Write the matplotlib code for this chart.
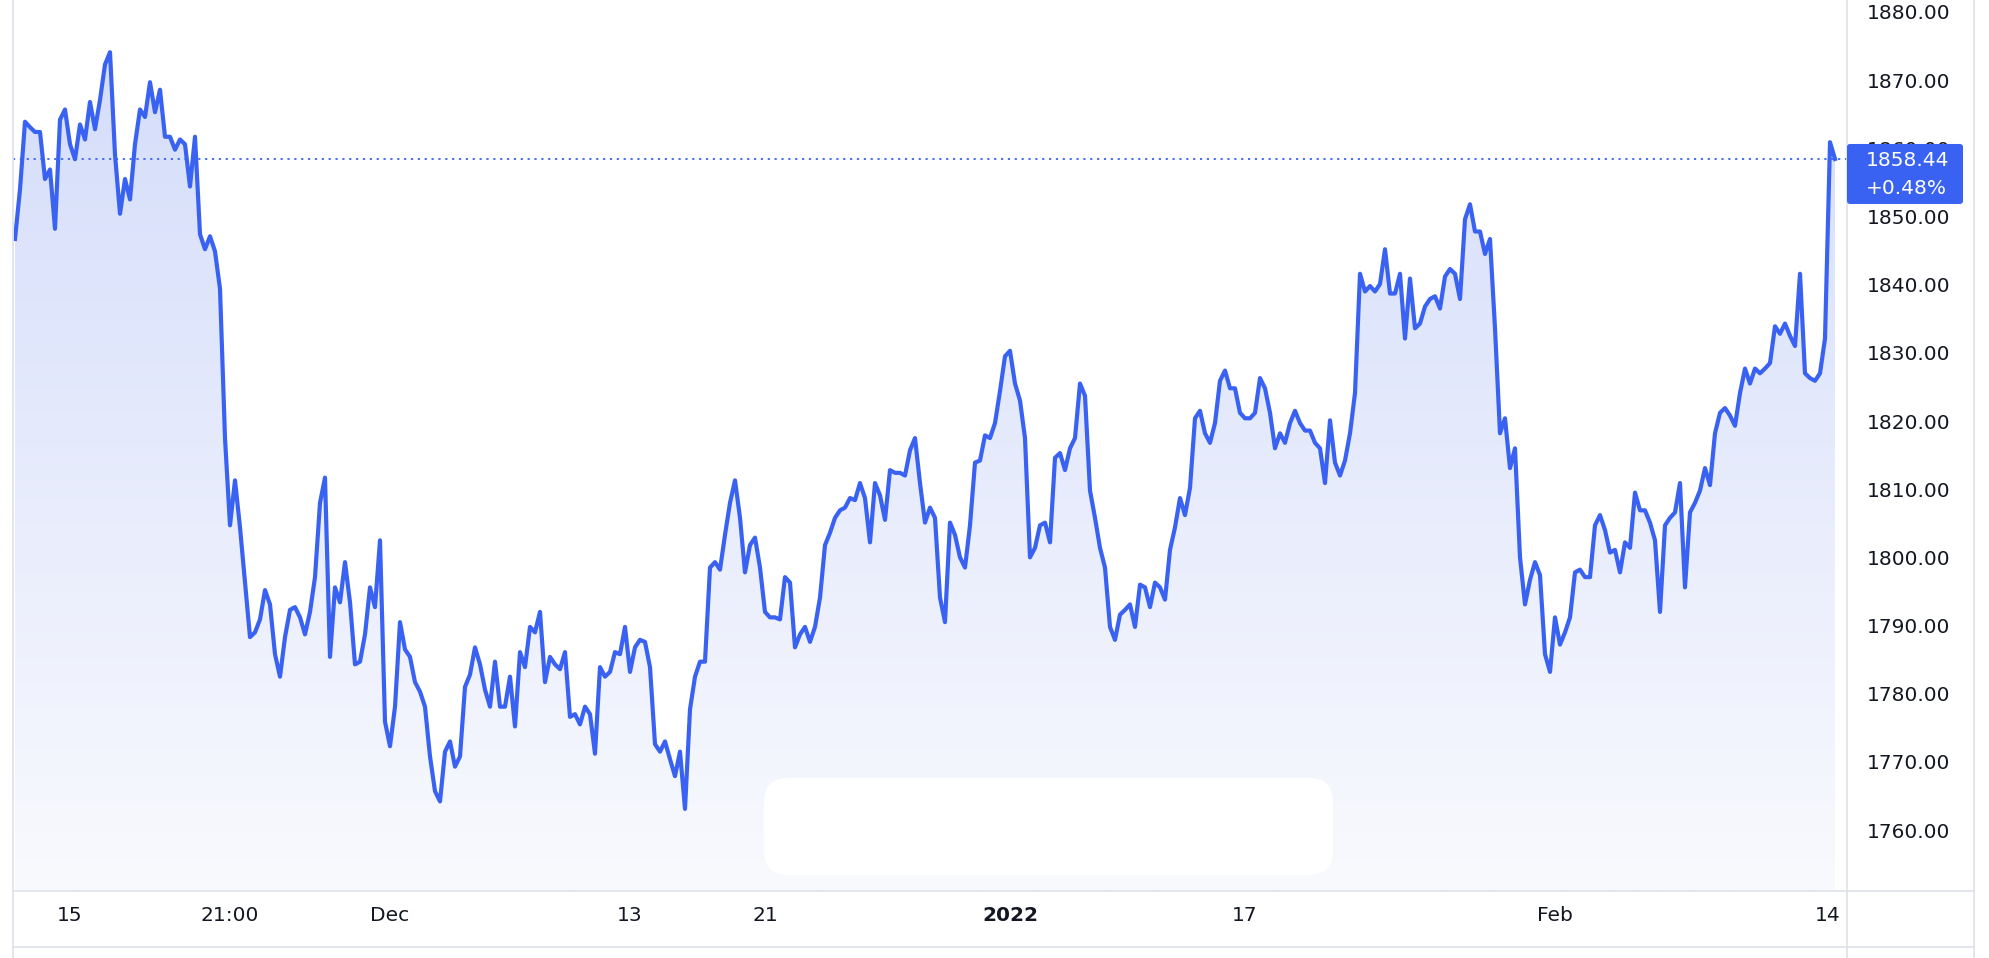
import numpy as np
import matplotlib
matplotlib.use("Agg")
import matplotlib.pyplot as plt
from matplotlib.patches import FancyBboxPatch
from matplotlib.lines import Line2D
from matplotlib.transforms import IdentityTransform

# gold spot (USD/oz) at even time steps
prices_mid_nov = [
    1846.7, 1854.0, 1863.9, 1863.1, 1862.4, 1862.4, 1855.5, 1856.9, 1848.2, 1864.2,
    1865.7, 1860.6, 1858.4, 1863.5, 1861.3, 1866.8, 1862.8, 1867.1, 1872.3, 1874.1,
    1859.1, 1850.4, 1855.5, 1852.5, 1860.6, 1865.7, 1864.6, 1869.7, 1865.3, 1868.6,
    1861.7, 1861.7, 1859.8, 1861.3, 1860.6, 1854.4, 1861.7, 1847.4, 1845.2, 1847.1,
    1844.9, 1839.4, 1817.5, 1804.7, 1811.3, 1804.4, 1796.3, 1788.3, 1789.0, 1790.9,
    1795.2, 1793.1, 1785.8, 1782.5, 1788.3, 1792.3, 1792.7, 1791.2, 1788.7, 1792.0,
    1797.1, 1808.0,
]
prices_early_dec = [
    1811.7, 1785.4, 1795.6, 1793.4, 1799.3, 1793.4, 1784.3, 1784.7, 1788.7, 1795.6,
    1792.7, 1802.5, 1775.9, 1772.3, 1778.1, 1790.5, 1786.5, 1785.4, 1781.7, 1780.3,
    1778.1, 1770.8, 1765.7, 1764.2, 1771.5, 1773.0, 1769.3, 1770.8, 1781.0, 1782.8,
    1786.8, 1784.3, 1780.6, 1778.1, 1784.7, 1778.1, 1778.1, 1782.5, 1775.2, 1786.1,
    1783.9, 1789.8, 1789.0, 1792.0, 1781.7, 1785.4, 1784.3, 1783.6, 1786.1, 1776.6,
    1777.0, 1775.5, 1778.1, 1777.0, 1771.2, 1783.9, 1782.5, 1783.2, 1786.1, 1785.8,
    1789.8, 1783.2,
]
prices_late_dec = [
    1786.8, 1787.9, 1787.6, 1783.9, 1772.6, 1771.5, 1773.0, 1770.4, 1767.9, 1771.5,
    1763.1, 1777.7, 1782.5, 1784.7, 1784.7, 1798.5, 1799.3, 1798.2, 1803.3, 1808.0,
    1811.3, 1805.8, 1797.8, 1801.8, 1802.9, 1798.5, 1792.0, 1791.2, 1791.2, 1790.9,
    1797.1, 1796.3, 1786.8, 1788.7, 1789.8, 1787.6, 1789.8, 1794.1, 1801.8, 1803.6,
    1805.8, 1806.9, 1807.3, 1808.7, 1808.4, 1810.9, 1808.7, 1802.2, 1810.9, 1809.1,
    1805.5, 1812.8, 1812.4, 1812.4, 1812.0, 1815.7, 1817.5, 1810.9, 1805.1, 1807.3,
    1805.8, 1794.1,
]
prices_early_jan = [
    1790.5, 1805.1, 1803.3, 1800.0, 1798.5, 1804.7, 1813.9, 1814.2, 1817.9, 1817.5,
    1819.7, 1824.4, 1829.5, 1830.3, 1825.5, 1823.0, 1817.5, 1800.0, 1801.4, 1804.7,
    1805.1, 1802.2, 1814.6, 1815.3, 1812.8, 1816.0, 1817.5, 1825.5, 1823.7, 1809.8,
    1805.8, 1801.4, 1798.5, 1789.8, 1787.9, 1791.6, 1792.3, 1793.1, 1789.8, 1796.0,
    1795.6, 1792.7, 1796.3, 1795.6, 1793.8, 1801.1, 1804.4, 1808.7, 1806.2, 1810.2,
    1820.4, 1821.5, 1818.2, 1816.8, 1819.7, 1825.9, 1827.4, 1824.8, 1824.8, 1821.2,
    1820.4, 1820.4,
]
prices_late_jan = [
    1821.2, 1826.3, 1824.8, 1821.2, 1816.0, 1818.2, 1816.8, 1819.7, 1821.5, 1819.7,
    1818.6, 1818.6, 1816.8, 1816.0, 1810.9, 1820.1, 1813.9, 1812.0, 1814.2, 1818.2,
    1824.1, 1841.6, 1839.0, 1839.8, 1839.0, 1840.1, 1845.2, 1838.7, 1838.7, 1841.6,
    1832.1, 1840.9, 1833.6, 1834.3, 1836.8, 1837.9, 1838.3, 1836.5, 1841.2, 1842.3,
    1841.6, 1837.9, 1849.6, 1851.8, 1847.8, 1847.8, 1844.5, 1846.7, 1833.6, 1818.2,
    1820.4, 1813.1, 1816.0, 1800.0, 1793.1, 1796.7, 1799.3, 1797.4, 1785.8, 1783.2,
    1791.2, 1787.2,
]
prices_feb = [
    1789.0, 1791.2, 1797.8, 1798.2, 1797.1, 1797.1, 1804.7, 1806.2, 1804.0, 1800.7,
    1801.1, 1797.8, 1802.2, 1801.4, 1809.5, 1806.9, 1806.9, 1805.1, 1802.5, 1792.0,
    1804.7, 1805.8, 1806.6, 1810.9, 1795.6, 1806.6, 1808.0, 1809.8, 1813.1, 1810.6,
    1818.2, 1821.2, 1821.9, 1820.8, 1819.3, 1824.1, 1827.7, 1825.5, 1827.7, 1827.0,
    1827.7, 1828.5, 1833.9, 1832.8, 1834.3, 1832.5, 1831.0, 1841.6, 1827.0, 1826.3,
    1825.9, 1827.0, 1832.1, 1860.9, 1858.44,
]

last_price = 1858.44
last_change = "+0.48%"

tick_pos = [11, 43, 75, 123, 150, 199, 246, 308, 362.5]
tick_labels = ["15", "21:00", "Dec", "13", "21", "2022", "17", "Feb", "14"]
y_ticks = np.arange(1760, 1881, 10)

BLUE = "#3962f3"
TEXT = "#131722"
GRID = "#e0e3eb"
W, H = 1990, 958

prices = np.array(prices_mid_nov + prices_early_dec + prices_late_dec
                  + prices_early_jan + prices_late_jan + prices_feb)
x = np.arange(len(prices))

fig = plt.figure(figsize=(W / 100, H / 100), dpi=100)
ax = fig.add_axes([13 / W, 67 / H, 1834 / W, 891 / H])
x0, x1 = -0.4, 366.4
y0, y1 = 1751.06, 1881.76

# gradient fill under the line
grad = np.linspace(0, 1, 256)[:, None, None]
top = np.array([210, 219, 250]) / 255
bot = np.array([249, 250, 254]) / 255
img = bot + (top - bot) * grad
im = ax.imshow(img, extent=[x0, x1, y0, y1], origin="lower", aspect="auto",
               zorder=1, interpolation="bilinear")
area = ax.fill_between(x, prices, y0, facecolor="none", linewidth=0)
im.set_clip_path(area.get_paths()[0], transform=ax.transData)

# white overlay card at the bottom
card = FancyBboxPatch((764, 958 - 875), 569, 97,
                      boxstyle="round,pad=0,rounding_size=24",
                      transform=IdentityTransform(), fc="white", ec="none",
                      zorder=2, clip_on=False)
ax.add_patch(card)

ax.plot(x, prices, color=BLUE, lw=3.0, zorder=4, solid_joinstyle="round")
ax.axhline(last_price, color=BLUE, lw=1.3, ls=(0, (1.2, 2.6)), zorder=3)

ax.set_xlim(x0, x1)
ax.set_ylim(y0, y1)
for s in ax.spines.values():
    s.set_visible(False)

ax.yaxis.tick_right()
ax.set_yticks(y_ticks)
ax.set_yticklabels([f"{v:.2f}" for v in y_ticks])
ax.tick_params(axis="y", length=0, pad=14.4, labelsize=14.5, labelcolor=TEXT)
ax.set_xticks(tick_pos, tick_labels)
ax.tick_params(axis="x", length=0, pad=11, labelsize=14.5, labelcolor=TEXT)
for lbl in ax.get_xticklabels():
    if lbl.get_text() == "2022":
        lbl.set_fontweight("bold")

# frame lines
def fig_line(xs, ys):
    fig.add_artist(Line2D([v / W for v in xs], [1 - v / H for v in ys],
                          transform=fig.transFigure, color=GRID, lw=1.3))

fig_line([13, 13], [0, H])
fig_line([1847, 1847], [0, H])
fig_line([1974, 1974], [0, H])
fig_line([13, 1974], [891, 891])
fig_line([13, 1974], [947, 947])

# last price tag (sits over the 1860.00 label, as in the original)
y_disp = ax.transData.transform((0, last_price))[1]
tag = FancyBboxPatch((1847, y_disp - 45), 116, 60,
                     boxstyle="round,pad=0,rounding_size=3",
                     transform=IdentityTransform(), fc=BLUE, ec="none", zorder=5)
fig.add_artist(tag)
fig.text(1866 / W, (y_disp - 2) / H, f"{last_price:.2f}", color="white",
         fontsize=14.5, va="center", ha="left", zorder=6)
fig.text(1866 / W, (y_disp - 30) / H, last_change, color="white",
         fontsize=14.5, va="center", ha="left", zorder=6)

fig.savefig("out.png", dpi=100, facecolor="white")
